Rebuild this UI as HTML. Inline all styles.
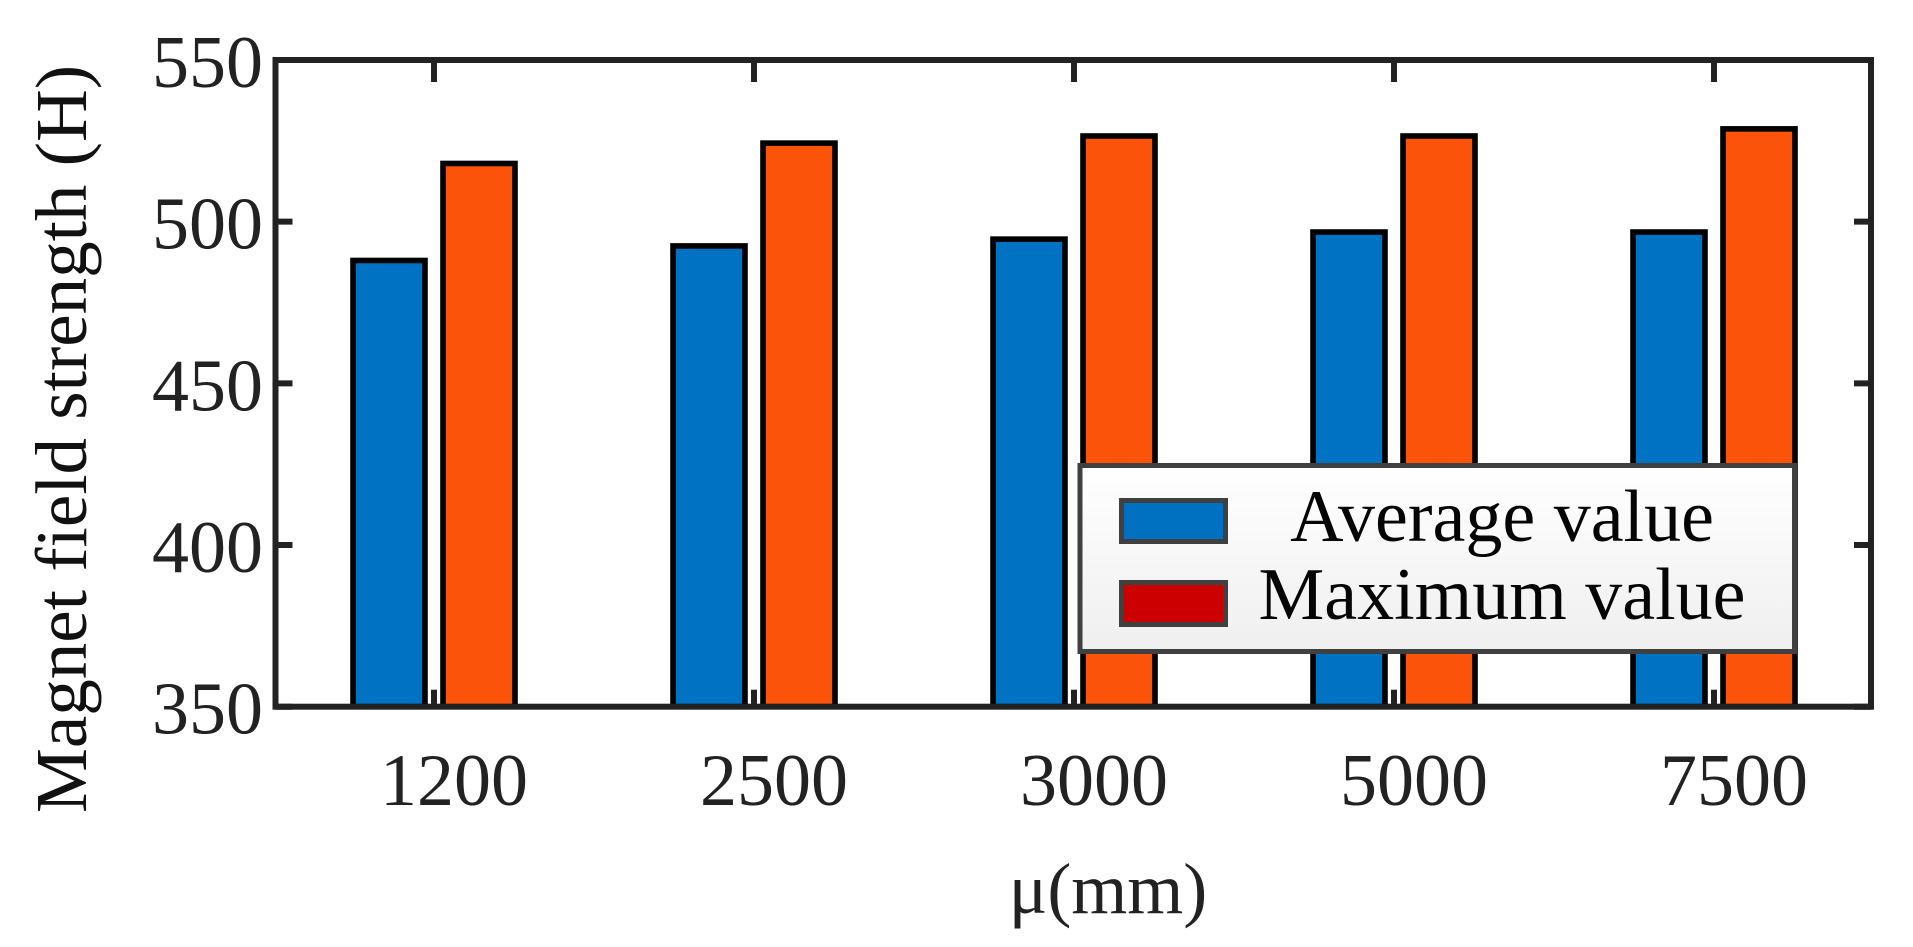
<!DOCTYPE html>
<html lang="en">
<head>
<meta charset="utf-8">
<title>Magnet field strength chart</title>
<style>
html,body{margin:0;padding:0;background:#fff;width:1913px;height:947px;overflow:hidden}
svg{display:block}
text{font-family:"Liberation Serif","DejaVu Serif",serif}
</style>
</head>
<body>
<svg id="chart" xmlns="http://www.w3.org/2000/svg" width="1913" height="947" viewBox="0 0 1913 947">
  <defs>
    <linearGradient id="legendBg" x1="0" y1="0" x2="0" y2="1">
      <stop offset="0" stop-color="#ffffff"/>
      <stop offset="1" stop-color="#efefef"/>
    </linearGradient>
  </defs>
  <g id="ticks"></g>
  <g id="bars"></g>
  <rect x="275.5" y="60" width="1595.5" height="646.7" fill="none" stroke="#222222" stroke-width="6"/>
  <g id="labels"></g>
  <text transform="translate(86,439) rotate(-90)" text-anchor="middle" font-size="73" fill="#111111">Magnet field strength (H)</text>
  <text x="1108" y="913" text-anchor="middle" font-size="72" fill="#222222">μ(mm)</text>
  <g>
    <rect x="1080" y="465.5" width="714.5" height="186" fill="url(#legendBg)" stroke="#404040" stroke-width="5"/>
    <g>
      <rect x="1121.5" y="500.5" width="104" height="41" fill="#0070c0" stroke="#404040" stroke-width="5"/>
      <text x="1502" y="541" text-anchor="middle" font-size="74" fill="#050505">Average value</text>
    </g>
    <g>
      <rect x="1121.5" y="582.5" width="104" height="42" fill="#cc0000" stroke="#404040" stroke-width="5"/>
      <text x="1502" y="619" text-anchor="middle" font-size="74" fill="#050505">Maximum value</text>
    </g>
  </g>
</svg>
<script>
const categories = ['1200', '2500', '3000', '5000', '7500'];
const averageValues = [488, 492.5, 494.6, 496.8, 496.8];
const maximumValues = [518, 524.3, 526.5, 526.5, 528.7];
const yTickLabels = [350, 400, 450, 500, 550];

const NS = 'http://www.w3.org/2000/svg';
const plotLeft = 275.5, plotRight = 1871, plotTop = 60, plotBottom = 706.7;
const yMin = 350, yMax = 550;
const firstCategoryX = 434, categoryStep = 320;
const barOffset = 45, barWidth = 72;

function yScale(v) {
  return plotBottom - (v - yMin) / (yMax - yMin) * (plotBottom - plotTop);
}
function xScale(i) {
  return firstCategoryX + i * categoryStep;
}
function make(tag, attrs, parent) {
  const el = document.createElementNS(NS, tag);
  for (const k in attrs) el.setAttribute(k, attrs[k]);
  parent.appendChild(el);
  return el;
}

const ticksG = document.getElementById('ticks');
const barsG = document.getElementById('bars');
const labelsG = document.getElementById('labels');

yTickLabels.forEach(function (v) {
  const y = yScale(v);
  const left = make('line', {x1: plotLeft, x2: plotLeft + 17, y1: y, y2: y, stroke: '#222222', 'stroke-width': 6}, ticksG);
  
  
  const right = make('line', {x1: plotRight - 17, x2: plotRight, y1: y, y2: y, stroke: '#222222', 'stroke-width': 6}, ticksG);
  
  
  const label = make('text', {x: 263, y: y + 27, 'text-anchor': 'end', 'font-size': 74, fill: '#222222'}, labelsG);
  
  
  label.textContent = String(v);
});

categories.forEach(function (c, i) {
  const x = xScale(i);
  const top = make('line', {x1: x, x2: x, y1: plotTop, y2: plotTop + 22, stroke: '#222222', 'stroke-width': 6}, ticksG);
  
  
  const bottom = make('line', {x1: x, x2: x, y1: plotBottom - 17, y2: plotBottom, stroke: '#222222', 'stroke-width': 6}, ticksG);
  
  

  const avgTop = yScale(averageValues[i]);
  const avg = make('rect', {x: x - barOffset - barWidth / 2, y: avgTop, width: barWidth, height: plotBottom - avgTop, fill: '#0072c4', stroke: '#000000', 'stroke-width': 5.6}, barsG);
  
  

  const maxTop = yScale(maximumValues[i]);
  const max = make('rect', {x: x + barOffset - barWidth / 2, y: maxTop, width: barWidth, height: plotBottom - maxTop, fill: '#fb540a', stroke: '#000000', 'stroke-width': 5.6}, barsG);
  
  

  const label = make('text', {x: x + 20, y: 805, 'text-anchor': 'middle', 'font-size': 74, fill: '#222222'}, labelsG);
  
  
  label.textContent = c;
});
</script>
</body>
</html>
